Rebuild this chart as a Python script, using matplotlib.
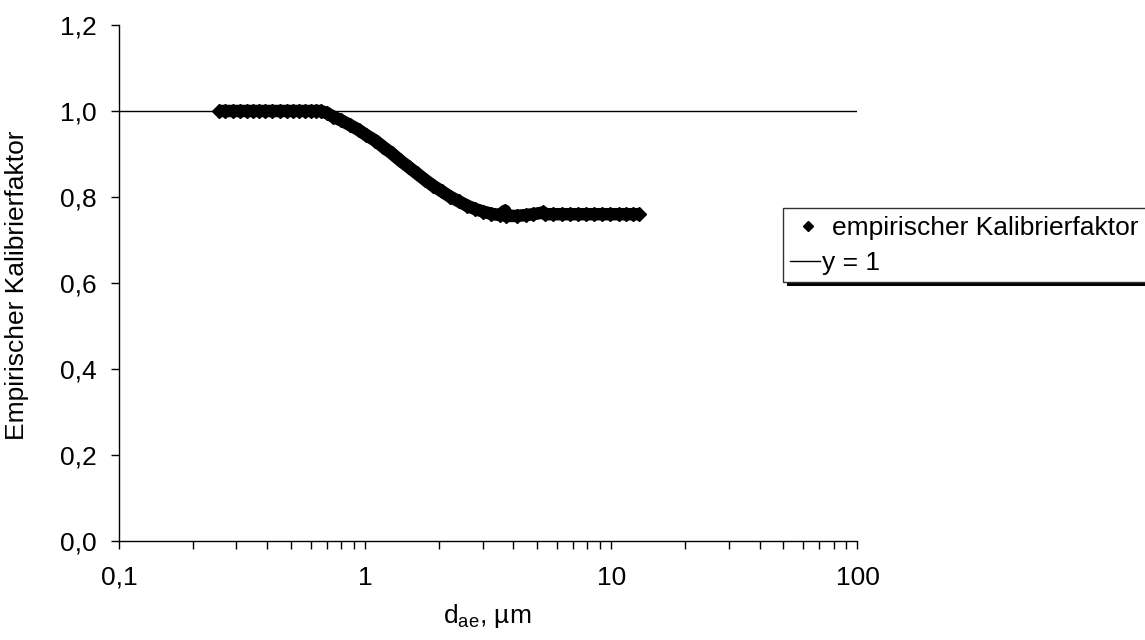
import matplotlib
matplotlib.use("Agg")
import matplotlib.pyplot as plt
from matplotlib.patches import Rectangle
from matplotlib.lines import Line2D
from matplotlib.ticker import FixedLocator, LogLocator, NullFormatter

plt.rcParams['font.family'] = ['Liberation Sans', 'DejaVu Sans']
plt.rcParams['mathtext.fontset'] = 'custom'
plt.rcParams['mathtext.rm'] = 'Liberation Sans'

# data
d_ae = [0.255, 0.27, 0.29, 0.31, 0.33, 0.35, 0.37, 0.39, 0.42, 0.45, 0.48, 0.51,
        0.54, 0.57, 0.60, 0.63, 0.66,
        0.70, 0.74, 0.80, 0.87, 0.94, 1.01, 1.10, 1.18, 1.28, 1.38, 1.50, 1.62,
        1.75, 1.89, 2.05, 2.21, 2.40, 2.59, 2.80, 3.02, 3.25, 3.53, 3.70, 3.72,
        4.12, 4.50, 4.82, 5.29, 5.40, 5.8, 6.3, 6.8, 7.3, 7.9, 8.5, 9.2, 9.9,
        10.7, 11.5, 12.3, 12.9]
kalib = [1.0, 1.0, 1.0, 1.0, 1.0, 1.0, 1.0, 1.0, 1.0, 1.0, 1.0, 1.0,
         1.0, 1.0, 1.0, 1.0, 1.0,
         0.995, 0.987, 0.978, 0.967, 0.956, 0.944, 0.931, 0.917, 0.902, 0.886, 0.870, 0.855,
         0.840, 0.826, 0.813, 0.801, 0.790, 0.780, 0.772, 0.766, 0.761, 0.758, 0.768, 0.756,
         0.756, 0.758, 0.760, 0.764, 0.760, 0.760, 0.760, 0.760, 0.760, 0.760, 0.760, 0.760, 0.760,
         0.760, 0.760, 0.760, 0.760]
ref_x = [0.1, 100]
ref_y = [1.0, 1.0]

y_ticks = [0.0, 0.2, 0.4, 0.6, 0.8, 1.0, 1.2]
y_ticklabels = ['0,0', '0,2', '0,4', '0,6', '0,8', '1,0', '1,2']
x_ticks = [0.1, 1, 10, 100]
x_ticklabels = ['0,1', '1', '10', '100']

FS = 19
W, H = 1145, 640
fig = plt.figure(figsize=(W / 100, H / 100), dpi=100)
L, R, T, B = 119, 857.5, 25, 541
ax = fig.add_axes([L / W, 1 - B / H, (R - L) / W, (B - T) / H])

ax.plot(ref_x, ref_y, color='black', lw=1.0, zorder=2)
ax.plot(d_ae, kalib, color='black', lw=9, solid_capstyle='butt',
        solid_joinstyle='round', zorder=3)
ax.plot(d_ae, kalib, linestyle='none', marker='D', ms=7, color='black', zorder=4)

ax.set_xscale('log')
ax.set_xlim(0.1, 100)
ax.set_ylim(0, 1.2)
ax.xaxis.set_major_locator(FixedLocator(x_ticks))
ax.set_xticklabels(x_ticklabels)
ax.xaxis.set_minor_locator(LogLocator(base=10, subs=range(2, 10)))
ax.xaxis.set_minor_formatter(NullFormatter())
ax.set_yticks(y_ticks)
ax.set_yticklabels(y_ticklabels)

for s in ['top', 'right']:
    ax.spines[s].set_visible(False)
for s in ['left', 'bottom']:
    ax.spines[s].set_linewidth(1.0)
ax.tick_params(axis='both', which='both', direction='out', length=6, width=1.0,
               labelsize=FS, colors='black')
ax.tick_params(axis='y', pad=10)
ax.tick_params(axis='x', pad=12)

fig.text(487 / W, 1 - 623 / H, r'd$_{\mathregular{ae}}$, µm', ha='center', va='baseline', fontsize=FS)
fig.text(17 / W, 1 - 285 / H, 'Empirischer Kalibrierfaktor', rotation=90,
         ha='center', va='center', fontsize=FS)

# legend box with shadow
fig.patches.append(Rectangle((787 / W, 1 - 286 / H), (W + 10 - 787) / W, 4 / H,
                             transform=fig.transFigure, facecolor='black', edgecolor='none', zorder=5))
fig.patches.append(Rectangle((783 / W, 1 - 282 / H), (W + 10 - 783) / W, (282 - 208) / H,
                             transform=fig.transFigure, facecolor='white', edgecolor='#333333',
                             lw=1.0, zorder=6))
fs_px = FS * 100 / 72
h1 = [Line2D([], [], linestyle='none', marker='D', ms=5.5, color='black')]
leg1 = fig.legend(h1, ['empirischer Kalibrierfaktor'], loc='center left',
                  bbox_to_anchor=(795 / W, 1 - 228 / H), frameon=False, fontsize=FS,
                  handlelength=1.0, handletextpad=(832 - 821) / fs_px,
                  borderpad=0, borderaxespad=0)
leg1.set_zorder(7)
h2 = [Line2D([], [], color='black', lw=1.0)]
leg2 = fig.legend(h2, ['y = 1'], loc='center left',
                  bbox_to_anchor=(790 / W, 1 - 263 / H), frameon=False, fontsize=FS,
                  handlelength=30 / fs_px, handletextpad=2 / fs_px,
                  borderpad=0, borderaxespad=0)
leg2.set_zorder(7)

fig.savefig('out.png', dpi=100)
